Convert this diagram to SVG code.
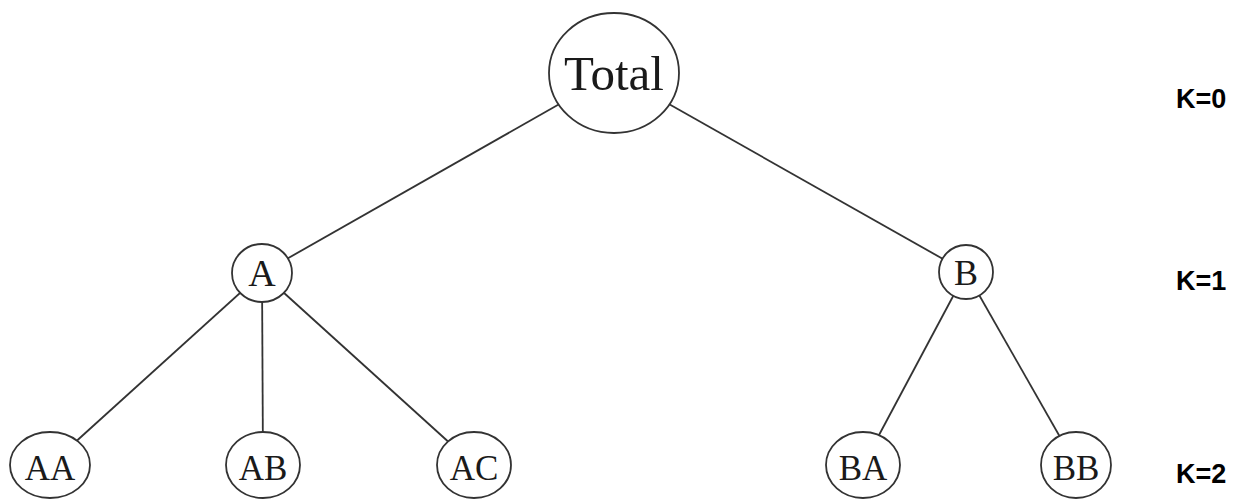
<svg xmlns="http://www.w3.org/2000/svg" width="1240" height="500" viewBox="0 0 1240 500">
<style>
.edge{stroke:#333;stroke-width:1.8;fill:none}
.node{fill:#fff;stroke:#333;stroke-width:1.8}
.lbl{font-family:"Liberation Serif","Times New Roman",serif;fill:#1a1a1a;text-anchor:middle}
.k{font-family:"Liberation Sans",Arial,sans-serif;font-weight:bold;font-size:27px;fill:#000}
</style>
<rect width="1240" height="500" fill="#fff"/>
<g id="connectors">
<line class="edge" x1="614" y1="73" x2="262" y2="273"/>
<line class="edge" x1="614" y1="73" x2="966" y2="272"/>
<line class="edge" x1="262" y1="273" x2="50" y2="465"/>
<line class="edge" x1="262" y1="273" x2="263" y2="465"/>
<line class="edge" x1="262" y1="273" x2="474" y2="465"/>
<line class="edge" x1="966" y1="272" x2="863" y2="465"/>
<line class="edge" x1="966" y1="272" x2="1076" y2="465"/>
</g>
<g id="node-total">
<ellipse class="node" cx="614" cy="73" rx="65" ry="60"/>
<text class="lbl" x="614" y="90" font-size="49">Total</text>
</g>
<g id="node-A">
<ellipse class="node" cx="262" cy="273" rx="30" ry="29"/>
<text class="lbl" x="262" y="286" font-size="38">A</text>
</g>
<g id="node-B">
<ellipse class="node" cx="966" cy="272" rx="27" ry="27"/>
<text class="lbl" x="966" y="285" font-size="36">B</text>
</g>
<g id="node-AA">
<ellipse class="node" cx="50" cy="465" rx="40" ry="33"/>
<text class="lbl" x="50" y="480" font-size="35">AA</text>
</g>
<g id="node-AB">
<ellipse class="node" cx="263" cy="465" rx="37" ry="33"/>
<text class="lbl" x="263" y="480" font-size="35">AB</text>
</g>
<g id="node-AC">
<ellipse class="node" cx="474" cy="465" rx="37" ry="33"/>
<text class="lbl" x="474" y="480" font-size="35">AC</text>
</g>
<g id="node-BA">
<ellipse class="node" cx="863" cy="465" rx="37" ry="33"/>
<text class="lbl" x="863" y="480" font-size="35">BA</text>
</g>
<g id="node-BB">
<ellipse class="node" cx="1076" cy="465" rx="35" ry="33"/>
<text class="lbl" x="1076" y="480" font-size="35">BB</text>
</g>
<g id="levels">
<text class="k" x="1176" y="108">K=0</text>
<text class="k" x="1176" y="290">K=1</text>
<text class="k" x="1176" y="483">K=2</text>
</g>
</svg>
